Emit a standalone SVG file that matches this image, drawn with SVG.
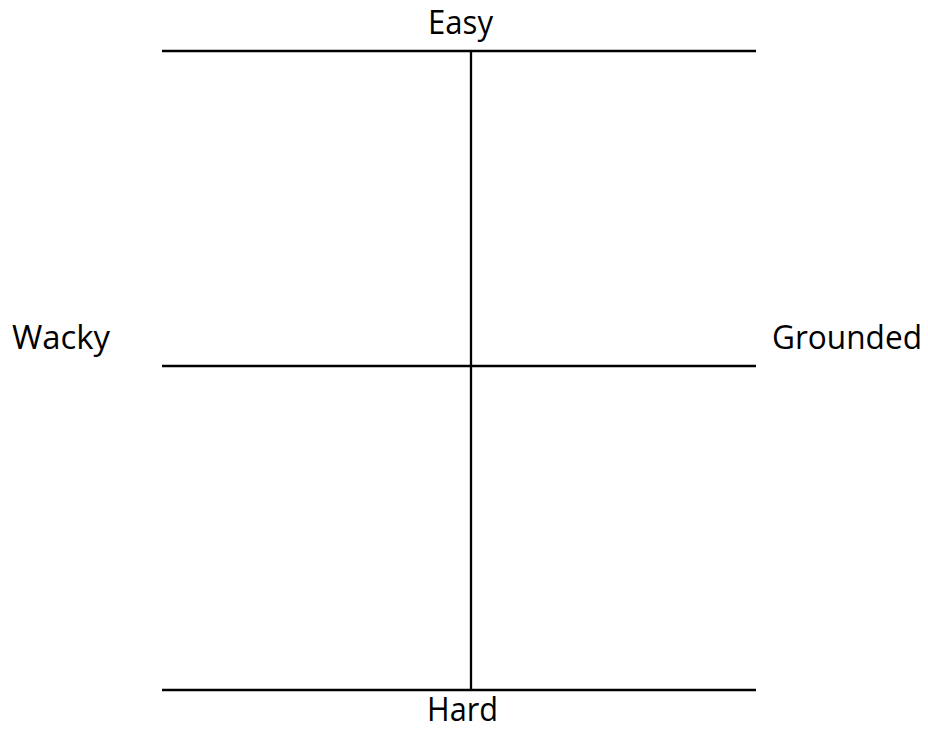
<svg xmlns="http://www.w3.org/2000/svg" width="928" height="731" viewBox="0 0 928 731">
<style>
.ax{stroke:#000;stroke-width:2.3;fill:none}
.lb{font-family:"Open Sans","Noto Sans","Liberation Sans",sans-serif;font-size:32px;fill:#000}
</style>
<rect width="928" height="731" fill="#fff"/>
<g id="connectors">
<line class="ax" x1="162" y1="51" x2="756" y2="51"/>
<line class="ax" x1="162" y1="366" x2="756" y2="366"/>
<line class="ax" x1="162" y1="690" x2="756" y2="690"/>
<line class="ax" x1="471" y1="51" x2="471" y2="690"/>
</g>
<g id="easy"><text class="lb" x="428" y="34" textLength="65" lengthAdjust="spacingAndGlyphs">Easy</text></g>
<g id="wacky"><text class="lb" x="12" y="349" textLength="98" lengthAdjust="spacingAndGlyphs">Wacky</text></g>
<g id="grounded"><text class="lb" x="772" y="349" textLength="150" lengthAdjust="spacingAndGlyphs">Grounded</text></g>
<g id="hard"><text class="lb" x="427" y="721" textLength="71" lengthAdjust="spacingAndGlyphs">Hard</text></g>
</svg>
